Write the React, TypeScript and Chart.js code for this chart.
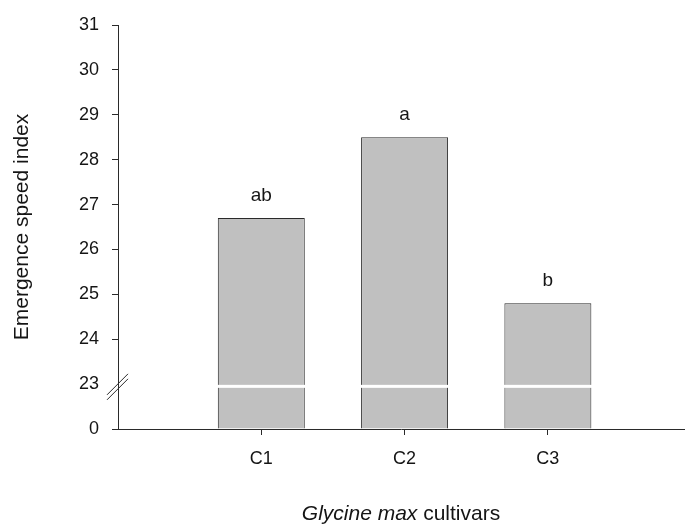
import { useEffect, useRef } from 'react';
import { Chart, registerables } from 'chart.js';

Chart.register(...registerables);

const categories = ['C1', 'C2', 'C3'];
const categoryPositions = [1, 2, 3];
const emergenceSpeedIndex = [26.7, 28.5, 24.8];
const significanceLetters = ['ab', 'a', 'b'];
const yTickValues = [0, 23, 24, 25, 26, 27, 28, 29, 30, 31];
const breakHigh = 23;
const breakBandAxis = 0.95;

const FONT = '"Liberation Sans", Arial, Helvetica, sans-serif';
const TEXT = '#151515';
const LINE = '#2a2a2a';

// broken axis: 0 -> 0, 23 -> 1, 24 -> 2, ... 31 -> 9
function toAxis(v: number): number {
  return v < breakHigh ? v / breakHigh : v - breakHigh + 1;
}

const decorPlugin = {
  id: 'decor',
  afterDraw(chart: any) {
    const { ctx, chartArea, scales } = chart;
    const x = scales.x;
    const y = scales.y;
    const meta = chart.getDatasetMeta(0);
    const bandY = y.getPixelForValue(breakBandAxis);
    ctx.save();
    // white break band across bars
    ctx.fillStyle = '#ffffff';
    meta.data.forEach((bar: any) => {
      const w = bar.width;
      ctx.fillRect(bar.x - w / 2 - 1, bandY - 1.5, w + 2, 3);
    });
    // significance letters
    ctx.fillStyle = TEXT;
    ctx.font = `19px ${FONT}`;
    ctx.textAlign = 'center';
    ctx.textBaseline = 'alphabetic';
    meta.data.forEach((bar: any, i: number) => {
      ctx.fillText(significanceLetters[i], bar.x, bar.y - 17);
    });
    // axis break marks
    ctx.strokeStyle = LINE;
    ctx.lineWidth = 1;
    const ax = chartArea.left;
    for (const d of [-2.5, 2.5]) {
      ctx.beginPath();
      ctx.moveTo(ax - 11, bandY + 11 + d);
      ctx.lineTo(ax + 10, bandY - 10 + d);
      ctx.stroke();
    }
    // x axis title with italic species name
    const partA = 'Glycine max';
    const partB = ' cultivars';
    const fA = `italic 21px ${FONT}`;
    const fB = `21px ${FONT}`;
    ctx.font = fA;
    const wA = ctx.measureText(partA).width;
    ctx.font = fB;
    const wB = ctx.measureText(partB).width;
    const cx = (chartArea.left + chartArea.right) / 2;
    const ty = x.bottom - 12;
    const sx = cx - (wA + wB) / 2;
    ctx.textAlign = 'left';
    ctx.textBaseline = 'middle';
    ctx.font = fA;
    ctx.fillText(partA, sx, ty);
    ctx.font = fB;
    ctx.fillText(partB, sx + wA, ty);
    ctx.restore();
  },
};

export default function App() {
  const ref = useRef<HTMLCanvasElement>(null);
  useEffect(() => {
    if (!ref.current) return;
    const chart = new Chart(ref.current, {
      type: 'bar',
      data: {
        datasets: [
          {
            data: categoryPositions.map((p, i) => ({ x: p, y: toAxis(emergenceSpeedIndex[i]) })),
            backgroundColor: '#c0c0c0',
            borderColor: LINE,
            borderWidth: 1,
            barPercentage: 0.607,
            categoryPercentage: 1,
          },
        ],
      },
      options: {
        responsive: false,
        animation: false,
        layout: { padding: { top: 25, right: 3, left: 0, bottom: 0 } },
        plugins: { legend: { display: false }, tooltip: { enabled: false } },
        scales: {
          x: {
            type: 'linear',
            min: 0,
            max: 3.95,
            offset: false,
            afterBuildTicks: (s: any) => {
              s.ticks = categoryPositions.map((v) => ({ value: v }));
            },
            afterFit: (s: any) => {
              s.height = 97;
            },
            ticks: {
              callback: (v: any) => categories[categoryPositions.indexOf(Number(v))] ?? '',
              font: { size: 18, family: FONT },
              color: TEXT,
              padding: 13,
              maxRotation: 0,
              autoSkip: false,
            },
            grid: { drawOnChartArea: false, offset: false, tickLength: 6, tickColor: LINE },
            border: { color: LINE, width: 1 },
          },
          y: {
            type: 'linear',
            min: 0,
            max: yTickValues.length - 1,
            afterFit: (s: any) => {
              s.width = 118;
            },
            ticks: {
              stepSize: 1,
              callback: (v: any) => String(yTickValues[Number(v)] ?? ''),
              font: { size: 18, family: FONT },
              color: TEXT,
              padding: 13,
            },
            grid: {
              drawOnChartArea: false,
              tickLength: 6,
              tickColor: (c: any) => (c.index === 1 ? 'rgba(0,0,0,0)' : LINE),
            },
            border: { color: LINE, width: 1 },
            title: {
              display: true,
              text: 'Emergence speed index',
              font: { size: 21, family: FONT },
              color: TEXT,
              padding: { top: 10, bottom: 0 },
            },
          },
        },
      } as any,
      plugins: [decorPlugin],
    });
    return () => chart.destroy();
  }, []);
  return (
    <div style={{ position: 'fixed', left: 0, top: 0, width: 687, height: 526, background: '#fff' }}>
      <canvas ref={ref} width={687} height={526} style={{ display: 'block' }} />
    </div>
  );
}
